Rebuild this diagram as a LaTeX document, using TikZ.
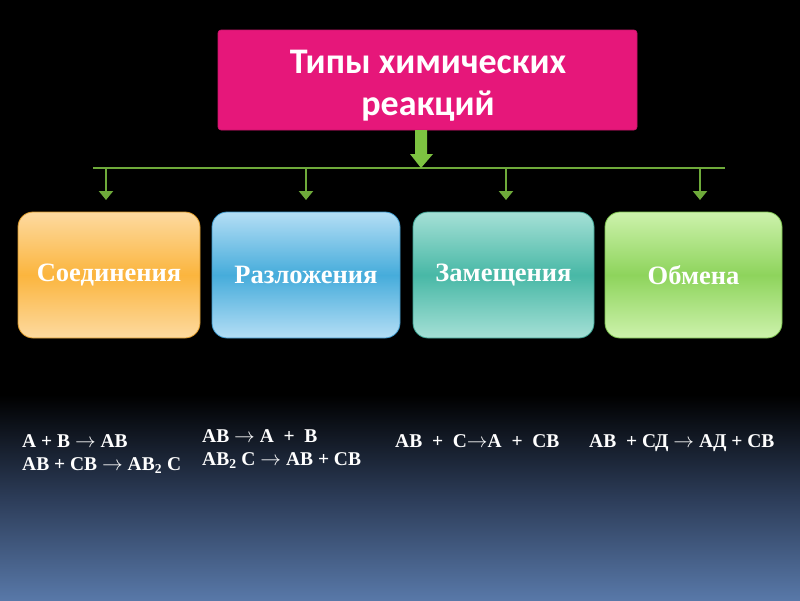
\documentclass[tikz,border=0pt]{standalone}
\usepackage{fontspec}
\setmainfont{Liberation Serif}
\newfontfamily\titlefont{Carlito}
\usetikzlibrary{arrows.meta,calc}
\definecolor{pinkbox}{RGB}{230,23,122}
\definecolor{pinkedge}{RGB}{200,20,105}
\definecolor{linegreen}{RGB}{110,170,58}
\definecolor{arrowgreen}{RGB}{125,195,65}
\definecolor{bgblue}{RGB}{88,120,168}
\definecolor{bgmid}{RGB}{44,60,88}
\definecolor{orA}{RGB}{253,218,160}
\definecolor{orB}{RGB}{251,181,62}
\definecolor{orE}{RGB}{215,150,40}
\definecolor{blA}{RGB}{180,222,245}
\definecolor{blB}{RGB}{70,172,219}
\definecolor{blE}{RGB}{60,150,200}
\definecolor{tlA}{RGB}{165,224,214}
\definecolor{tlB}{RGB}{72,184,166}
\definecolor{tlE}{RGB}{60,160,145}
\definecolor{gnA}{RGB}{205,242,172}
\definecolor{gnB}{RGB}{142,212,92}
\definecolor{gnE}{RGB}{120,190,75}
\newcommand{\rar}{$\rightarrow$}
\tikzset{
  typebox/.style={rounded corners=15pt, minimum width=182pt, minimum height=126pt,
    inner sep=0pt, text=white, font=\bfseries\fontsize{26.5}{30}\selectfont, line width=0.8pt},
  greenline/.style={draw=linegreen, line width=2.6pt},
  smallarrow/.style={draw=linegreen, line width=2.6pt, -{Triangle[width=14pt,length=9pt]}},
  eqtext/.style={text=white, font=\bfseries\fontsize{19.5}{23}\selectfont, anchor=base west, inner sep=0pt},
  titletext/.style={text=white, inner sep=0pt, anchor=base, font=\titlefont\bfseries\fontsize{36}{43}\selectfont}
}
\begin{document}
\begin{tikzpicture}[x=1pt,y=-1pt]
\useasboundingbox (0,0) rectangle (800,600);
\fill[black] (0,0) rectangle (800,396);
\shade[top color=black, bottom color=bgblue, middle color=bgmid] (0,395) rectangle (800,600);

% title
\node[fill=pinkbox, draw=pinkedge, line width=0.6pt, rounded corners=3pt,
  minimum width=419pt, minimum height=100pt, inner sep=0pt] (title) at (427.5,80) {};
\node[titletext] (t1) at (428,73) {Типы химических};
\node[titletext] (t2) at (428,115) {реакций};

% boxes
\node[typebox, top color=orA, bottom color=orA, middle color=orB, draw=orE] (b1) at (109,275) {Соединения};
\node[typebox, top color=blA, bottom color=blA, middle color=blB, draw=blE, minimum width=188pt] (b2) at (306,275) {Разложения};
\node[typebox, top color=tlA, bottom color=tlA, middle color=tlB, draw=tlE, minimum width=181pt] (b3) at (503.5,275) {Замещения};
\node[typebox, top color=gnA, bottom color=gnA, middle color=gnB, draw=gnE, minimum width=177pt] (b4) at (693.5,275) {Обмена};

% connector bar
\coordinate (barL) at (93,168);
\coordinate (barR) at (725,168);
\coordinate (barM) at (421,168);
\draw[greenline] (barL) -- (barR);
\foreach \i/\x in {1/106,2/306,3/506,4/700}{
  \coordinate (t\i) at (\x,168);
  \draw[smallarrow] (t\i) -- (\x,200);
}
% big arrow
\coordinate (bigtop) at (421,130);
\fill[arrowgreen] ($(bigtop)+(-6,0)$) -- ++(12,0) -- ++(0,24) -- ++(6,0) -- (barM) -- ++(-11,-14) -- ++(5,0) -- cycle;

% equations
\node[eqtext] (e1a) at (22,447) {А + В \rar{} АВ};
\node[eqtext] (e1b) at (22,470) {АВ + СВ \rar{} АВ\textsubscript{2} С};
\node[eqtext] (e2a) at (202,442) {АВ \rar{} А ~+~ В};
\node[eqtext] (e2b) at (202,465) {АВ\textsubscript{2} С \rar{} АВ + СВ};
\node[eqtext] (e3) at (395,447) {АВ ~+~ С\rar А ~+~ СВ};
\node[eqtext] (e4) at (589,447) {АВ ~+ СД \rar{} АД + СВ};
\end{tikzpicture}
\end{document}
